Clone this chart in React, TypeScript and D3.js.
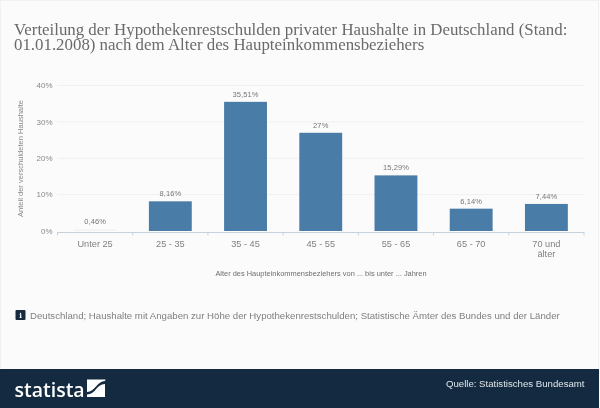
import React from "react";
import * as d3 from "d3";

const categories = ["Unter 25", "25 - 35", "35 - 45", "45 - 55", "55 - 65", "65 - 70", "70 und|älter"];
const values = [0.46, 8.16, 35.51, 27, 15.29, 6.14, 7.44];
const valueLabels = ["0,46%", "8,16%", "35,51%", "27%", "15,29%", "6,14%", "7,44%"];
const yTicks = [0, 10, 20, 30, 40];
const titleLines = [
  "Verteilung der Hypothekenrestschulden privater Haushalte in Deutschland (Stand:",
  "01.01.2008) nach dem Alter des Haupteinkommensbeziehers",
];
const yTitle = "Anteil der verschuldeten Haushalte";
const xTitle = "Alter des Haupteinkommensbeziehers von ... bis unter ... Jahren";
const note = "Deutschland; Haushalte mit Angaben zur Höhe der Hypothekenrestschulden; Statistische Ämter des Bundes und der Länder";
const source = "Quelle: Statistisches Bundesamt";

const sans = "'Liberation Sans', Arial, sans-serif";
const serif = "'Liberation Serif', Georgia, serif";

export default function App() {
  const x = d3.scaleBand<string>().domain(categories).range([57.5, 584]).paddingInner(0.43).paddingOuter(0.215);
  const y = d3.scaleLinear().domain([0, 40]).range([231, 85.5]);
  const bounds = [...categories.map((c) => (x(c) as number) - (x.step() - x.bandwidth()) / 2), 584];
  return (
    <svg width={600} height={408} style={{ position: "absolute", left: 0, top: 0 }}>
      <defs>
        <filter id="soft" x="-2%" y="-2%" width="104%" height="104%">
          <feGaussianBlur stdDeviation={0.3} />
        </filter>
      </defs>
      <rect width={600} height={408} fill="#fbfbfb" />
      <rect x={0.5} y={0.5} width={598} height={407} fill="none" stroke="#f1f1f1" />
      <g filter="url(#soft)">
        {titleLines.map((t, i) => (
          <text key={i} x={14} y={34.5 + i * 15.2} fontFamily={serif} fontSize={16.85} fill="#6b6b6b">{t}</text>
        ))}
        {yTicks.map((t) => (
          <g key={t}>
            {t > 0 && <line x1={57.5} x2={584} y1={y(t)} y2={y(t)} stroke="#eef0f2" />}
            <text x={52.5} y={y(t) + 2.8} textAnchor="end" fontFamily={sans} fontSize={8} fill="#888">{t}%</text>
          </g>
        ))}
        <text transform="translate(22.5,158.5) rotate(-90)" textAnchor="middle" fontFamily={sans} fontSize={7.55} fill="#888">{yTitle}</text>
        {categories.map((c, i) => (
          <g key={c}>
            <rect x={x(c)} y={y(values[i])} width={x.bandwidth()} height={y(0) - y(values[i])} fill={values[i] < 1 ? "#f1f4f7" : "#4a7ba6"} />
            <text x={(x(c) as number) + x.bandwidth() / 2} y={y(values[i]) - 5} textAnchor="middle" fontFamily={sans} fontSize={7.5} letterSpacing={0.1} fill="#777">{valueLabels[i]}</text>
            {c.split("|").map((part, j) => (
              <text key={j} x={(x(c) as number) + x.bandwidth() / 2} y={246.5 + j * 10.5} textAnchor="middle" fontFamily={sans} fontSize={9.2} fill="#808080">{part}</text>
            ))}
          </g>
        ))}
        <line x1={57.5} x2={584} y1={232.5} y2={232.5} stroke="#c5d3df" />
        {bounds.map((b, i) => (
          <line key={i} x1={b} x2={b} y1={232} y2={235.5} stroke="#c5d3df" />
        ))}
        <text x={321} y={275.5} textAnchor="middle" fontFamily={sans} fontSize={7.43} fill="#6e6e6e">{xTitle}</text>
        <rect x={15.5} y={310} width={10} height={10} rx={1} fill="#132a40" />
        <text x={20.5} y={318} textAnchor="middle" fontFamily="'DejaVu Serif', serif" fontWeight="bold" fontSize={7} fill="#fff">i</text>
        <text x={30} y={319} fontFamily={sans} fontSize={9.63} fill="#808080">{note}</text>
      </g>
      <rect x={0} y={369} width={599} height={39} fill="#132a40" />
      <g filter="url(#soft)">
        <text x={14.5} y={396.5} fontFamily="'Open Sans', sans-serif" fontWeight="600" fontSize={19.5} fill="#fff">statista</text>
        <path d="M87 379.5H105.5L105 381C97 381 95 392 87 392Z" fill="#fff" />
        <path d="M105 384V397H87V394.5C96 394.5 96 384 105 384Z" fill="#fff" />
        <text x={584.5} y={387} textAnchor="end" fontFamily={sans} fontSize={9.65} fill="#dfe6ec">{source}</text>
      </g>
    </svg>
  );
}
